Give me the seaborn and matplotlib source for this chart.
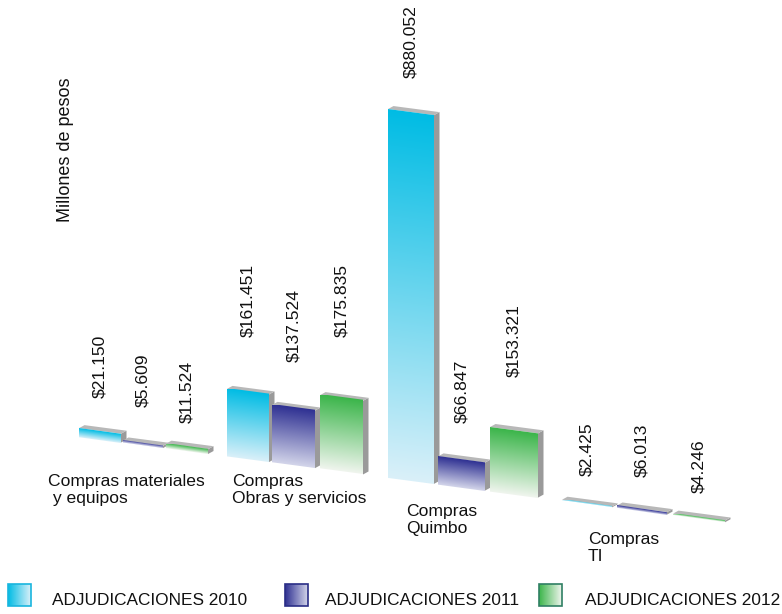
import numpy as np
import pandas as pd
import matplotlib
matplotlib.use("Agg")
import matplotlib.pyplot as plt
import seaborn as sns
from matplotlib.transforms import Affine2D
from matplotlib.patches import Polygon, Rectangle
from matplotlib.colors import to_rgba

# ---------------- data ----------------
categories = ["Compras materiales\n y equipos", "Compras\nObras y servicios",
              "Compras\nQuimbo", "Compras\nTI"]
series = ["ADJUDICACIONES 2010", "ADJUDICACIONES 2011", "ADJUDICACIONES 2012"]
values_2010 = [21.150, 161.451, 880.052, 2.425]
values_2011 = [5.609, 137.524, 66.847, 6.013]
values_2012 = [11.524, 175.835, 153.321, 4.246]
y_label = "Millones de pesos"

df = pd.DataFrame({
    "categoria": categories * 3,
    "serie": np.repeat(series, len(categories)),
    "valor": values_2010 + values_2011 + values_2012,
})

# ---------------- style ----------------
sns.set_theme(style="white")
plt.rcParams['font.family'] = ['Liberation Sans', 'DejaVu Sans']
top_colors = ["#00BCE4", "#2E3092", "#3BB54A"]
bottom_colors = ["#DAF0F9", "#D3D5EA", "#F0F5EE"]
legend_border = ["#19B5DE", "#2A2E86", "#2F7F63"]

# ---------------- layout (pixel space) ----------------
W, H = 782, 614
x0, base0, slope = 79.0, 437.0, 0.132      # slanted floor of the pseudo-3D scene
scale = 0.419                                 # px per unit
depth = (5.5, -3.0)
bar_left = [[79, 123, 166], [227, 272, 320], [388, 438, 490], [562, 617, 673]]
bar_width = [[42, 40, 42], [42, 43, 43], [46, 47, 48], [50, 50, 52]]
label_bottom = [[398, 407, 423], [337, 362, 337], [78, 423, 377], [476, 477, 493]]
cat_pos = [(48, 474), (232, 474), (406, 504), (588, 532)]
legend_sq_x = [8, 285, 539]
legend_txt_x = [52, 325, 585]
FS = 12.6

fig = plt.figure(figsize=(W / 100, H / 100), dpi=100)
ax = fig.add_axes([0, 0, 1, 1])
ax.axis("off")

shear = Affine2D.from_values(1, slope, 0, 1, 0, -slope * x0)
T = shear + ax.transData


def gradient(c1, c2, n=256, horizontal=False):
    a, b = np.array(to_rgba(c1)), np.array(to_rgba(c2))
    t = np.linspace(0, 1, n)[:, None]
    g = (1 - t) * a + t * b
    return g[None, :, :] if horizontal else g[:, None, :]


z = 2
for gi, cat in enumerate(categories):
    for si, ser in enumerate(series):
        v = df[(df.categoria == cat) & (df.serie == ser)]["valor"].iloc[0]
        L, w = bar_left[gi][si], bar_width[gi][si]
        h = v * scale
        top = base0 - h
        dx = depth[0]
        dy = depth[1] - slope * dx
        side = Polygon([(L + w, base0), (L + w, top), (L + w + dx, top + dy),
                        (L + w + dx, base0 + dy)], closed=True, transform=T,
                       fc="#9A9A9A", ec="none", zorder=z)
        topf = Polygon([(L, top), (L + w, top), (L + w + dx, top + dy),
                        (L + dx, top + dy)], closed=True, transform=T,
                       fc="#B8B8B8", ec="none", zorder=z)
        ax.add_patch(side)
        ax.add_patch(topf)
        bars = ax.bar(L, -h, width=w, bottom=base0, align="edge", transform=T,
                      color="none", linewidth=0, zorder=z + 0.2)
        im = ax.imshow(gradient(top_colors[si], bottom_colors[si]),
                       extent=(L, L + w, base0, top), origin="upper",
                       aspect="auto", transform=T, interpolation="bilinear",
                       zorder=z + 0.1)
        im.set_clip_path(bars.patches[0])
        ax.text(L + w / 2, label_bottom[gi][si], f"${v:.3f}", rotation=90,
                ha="center", va="bottom", fontsize=FS, color="#111111")
        z += 1

for gi, cat in enumerate(categories):
    ax.text(cat_pos[gi][0], cat_pos[gi][1], cat, ha="left", va="top",
            fontsize=FS, color="#111111", linespacing=1.15)

ax.text(66, 150, y_label, rotation=90, ha="center", va="center",
        fontsize=13, color="#111111")

# legend
for si, ser in enumerate(series):
    sx = legend_sq_x[si]
    ax.imshow(gradient(top_colors[si], bottom_colors[si], horizontal=True),
              extent=(sx, sx + 23, 606, 584), origin="upper", aspect="auto",
              interpolation="bilinear", zorder=5)
    ax.add_patch(Rectangle((sx, 584), 23, 22, fill=False,
                           ec=legend_border[si], lw=1.2, zorder=6))
    ax.text(legend_txt_x[si], 605, ser, ha="left", va="baseline",
            fontsize=12.4, color="#111111")

ax.set_xlim(0, W)
ax.set_ylim(H, 0)
fig.savefig("out.png", dpi=100)
